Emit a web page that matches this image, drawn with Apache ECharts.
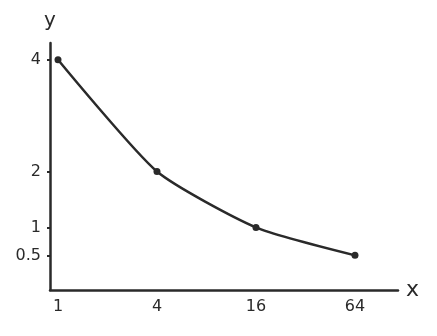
<!DOCTYPE html>
<html>
<head>
<meta charset="utf-8">
<script src="https://cdn.jsdelivr.net/npm/echarts@6/dist/echarts.min.js"></script>
<style>html,body{margin:0;padding:0;background:#fff}#c{width:437px;height:336px}</style>
</head>
<body>
<div id="c"></div>
<script>
// Data (y = 4 / sqrt(x), as sketched)
const xValues = [1, 4, 16, 64];
const yValues = [4, 2, 1, 0.5];
const xTickLabels = [1, 4, 16, 64];
const yTickLabels = [0.5, 1, 2, 4];

const ink = '#2a2a2a';
const font = 'DejaVu Sans';
const chart = echarts.init(document.getElementById('c'), null, {renderer: 'canvas'});
chart.setOption({
  backgroundColor: '#fff',
  animation: false,
  grid: {left: 50, right: 39, top: 43, bottom: 46},
  xAxis: {
    type: 'log', logBase: 4, min: 0.894, max: 116.9,
    name: 'x', nameLocation: 'end', nameGap: 8,
    nameTextStyle: {color: ink, fontSize: 22, fontFamily: font, verticalAlign: 'middle'},
    axisLine: {onZero: false, lineStyle: {color: ink, width: 2.5}},
    axisTick: {show: false, customValues: xTickLabels},
    axisLabel: {customValues: xTickLabels, color: ink, fontSize: 16, fontFamily: font, margin: 9},
    splitLine: {show: false}, minorTick: {show: false}
  },
  yAxis: {
    type: 'value', min: -0.12, max: 4.3,
    name: 'y', nameLocation: 'end', nameGap: 12,
    nameTextStyle: {color: ink, fontSize: 20, fontFamily: font, align: 'center'},
    axisLine: {show: true, onZero: false, lineStyle: {color: ink, width: 2.5}},
    axisTick: {show: true, customValues: yTickLabels, length: 3, lineStyle: {color: ink, width: 2}},
    axisLabel: {customValues: yTickLabels, color: ink, fontSize: 16, fontFamily: font, margin: 9},
    splitLine: {show: false}
  },
  series: [{
    type: 'line',
    data: xValues.map((x, i) => [x, yValues[i]]),
    smooth: 0.2,
    symbol: 'circle', symbolSize: 7,
    lineStyle: {color: ink, width: 2.5},
    itemStyle: {color: ink}
  }]
});
</script>
</body>
</html>
